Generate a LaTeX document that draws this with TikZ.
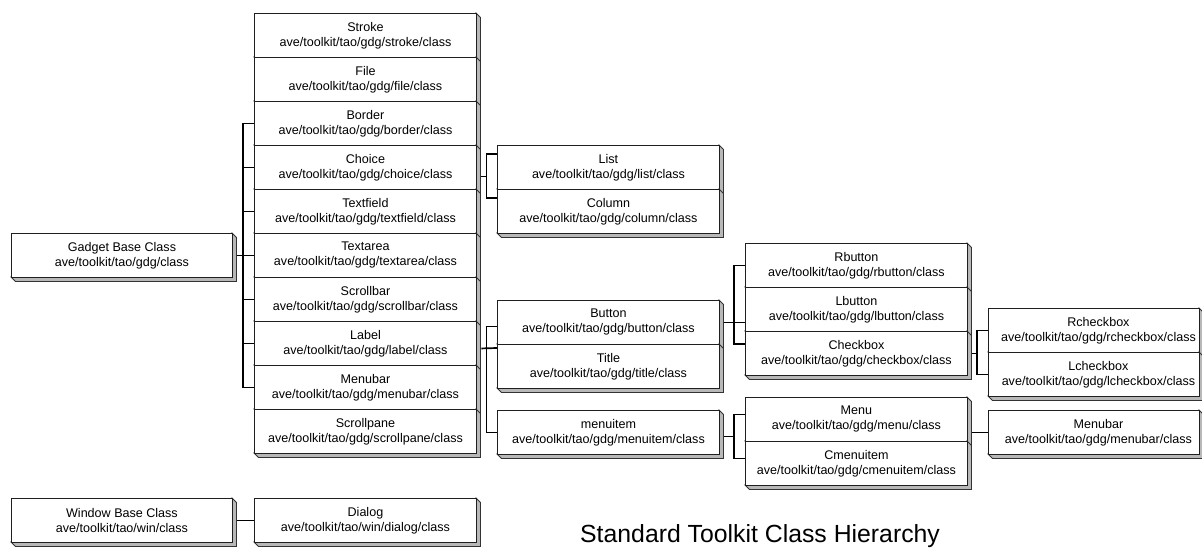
\documentclass[tikz,border=0pt]{standalone}
\usepackage{fontspec}
\setmainfont{Liberation Sans}
% A class box: white front with a grey extruded right/bottom face.
% #1 name, #2 left x, #3 top y, #4 width, #5 text
\newcommand\clsbox[5]{%
  \filldraw[face] (#2+#4,#3) -- ++(4.5,4.5) -- ++(0,44) -- ++(-#4,0)
    -- ++(-4.5,-4.5) -- ++(#4,0) -- cycle;
  \node[cls, minimum width=#4pt] (#1) at (#2,#3) {#5};}
\begin{document}
\begin{tikzpicture}[x=1pt,y=-1pt,
  cls/.style={draw=black!88, fill=white, line width=0.9pt, minimum height=44pt,
    inner sep=0pt, anchor=north west, align=center,
    font=\fontsize{12.56pt}{15pt}\selectfont},
  face/.style={fill=black!28, draw=black!80, line width=0.8pt, line join=miter},
  conn/.style={draw=black, line width=1.7pt}]
\clip (0,0) rectangle (1202,548);
\fill[white] (0,0) rectangle (1202,548);

% Gadget subclasses
\clsbox{stroke}{254}{13}{222}{Stroke\\ave/toolkit/tao/gdg/stroke/class}
\clsbox{file}{254}{57}{222}{File\\ave/toolkit/tao/gdg/file/class}
\clsbox{border}{254}{101}{222}{Border\\ave/toolkit/tao/gdg/border/class}
\clsbox{choice}{254}{145}{222}{Choice\\ave/toolkit/tao/gdg/choice/class}
\clsbox{textfield}{254}{189}{222}{Textfield\\ave/toolkit/tao/gdg/textfield/class}
\clsbox{textarea}{254}{233}{222}{Textarea\\ave/toolkit/tao/gdg/textarea/class}
\clsbox{scrollbar}{254}{277}{222}{Scrollbar\\ave/toolkit/tao/gdg/scrollbar/class}
\clsbox{label}{254}{321}{222}{Label\\ave/toolkit/tao/gdg/label/class}
\clsbox{mbar}{254}{365}{222}{Menubar\\ave/toolkit/tao/gdg/menubar/class}
\clsbox{scrollpane}{254}{409}{222}{Scrollpane\\ave/toolkit/tao/gdg/scrollpane/class}

% Base classes
\clsbox{gadget}{11}{233}{221}{Gadget Base Class\\ave/toolkit/tao/gdg/class}
\clsbox{window}{11}{498}{221}{Window Base Class\\ave/toolkit/tao/win/class}
\clsbox{dialog}{254}{498}{222}{Dialog\\ave/toolkit/tao/win/dialog/class}

% Second level
\clsbox{list}{497}{145}{222}{List\\ave/toolkit/tao/gdg/list/class}
\clsbox{column}{497}{189}{222}{Column\\ave/toolkit/tao/gdg/column/class}
\clsbox{button}{497}{300}{222}{Button\\ave/toolkit/tao/gdg/button/class}
\clsbox{title}{497}{344}{222}{Title\\ave/toolkit/tao/gdg/title/class}
\clsbox{menuitem}{497}{410}{222}{menuitem\\ave/toolkit/tao/gdg/menuitem/class}

% Third level
\clsbox{rbutton}{745}{243}{222}{Rbutton\\ave/toolkit/tao/gdg/rbutton/class}
\clsbox{lbutton}{745}{287}{222}{Lbutton\\ave/toolkit/tao/gdg/lbutton/class}
\clsbox{checkbox}{745}{331}{222}{Checkbox\\ave/toolkit/tao/gdg/checkbox/class}
\clsbox{menu}{745}{397}{222}{Menu\\ave/toolkit/tao/gdg/menu/class}
\clsbox{cmenuitem}{745}{441}{222}{Cmenuitem\\ave/toolkit/tao/gdg/cmenuitem/class}

% Fourth level
\clsbox{rcheckbox}{988}{308}{211}{\hspace*{9pt}Rcheckbox\\\hspace*{9pt}ave/toolkit/tao/gdg/rcheckbox/class}
\clsbox{lcheckbox}{988}{352}{211}{\hspace*{9pt}Lcheckbox\\\hspace*{9pt}ave/toolkit/tao/gdg/lcheckbox/class}
\clsbox{menubarr}{988}{410}{211}{\hspace*{9pt}Menubar\\\hspace*{9pt}ave/toolkit/tao/gdg/menubar/class}

% Connectors
\draw[conn] ([xshift=4.5pt]gadget.east) -- (textarea.west);
\draw[conn] (border.west) -- ++(-11,0) |- (mbar.west);
\foreach \n in {choice,textfield,scrollbar,label} \draw[conn] (\n.west) -- ++(-11,0);

\draw[conn] ([xshift=4.5pt,yshift=-9pt]choice.east) -- ++(6,0);
\draw[conn] ([yshift=-9pt]list.north west) -- ++(-10.5,0) |- ([yshift=-9pt]column.north west);

\draw[conn] ([xshift=4.5pt,yshift=-5pt]label.east) -- ([yshift=-4pt]title.north west);
\draw[conn] ([yshift=-4pt]button.west) -- ++(-10.5,0) |- (menuitem.west);

\draw[conn] ([xshift=4.5pt]button.east) -- (button.east -| lbutton.west);
\draw[conn] (rbutton.west) -- ++(-11,0) |- ([yshift=-13pt]checkbox.north west);

\draw[conn] ([xshift=4.5pt]checkbox.east) -- ++(6,0);
\draw[conn] (rcheckbox.west) -- ++(-11,0) |- (lcheckbox.west);

\draw[conn] ([xshift=4.5pt,yshift=-4pt]menuitem.east) -- ++(10.5,0);
\draw[conn] ([yshift=5pt]menu.west) -- ++(-11,0) |- ([yshift=5pt]cmenuitem.west);

\draw[conn] (menubarr.west) -- ++(-16.5,0);

\draw[conn] ([xshift=4.5pt]window.east) -- (dialog.west);

% Caption
\node[font=\fontsize{24.8pt}{30pt}\selectfont, anchor=base west, inner sep=0pt]
  (caption) at (580,542.5) {Standard Toolkit Class Hierarchy};
\end{tikzpicture}
\end{document}
